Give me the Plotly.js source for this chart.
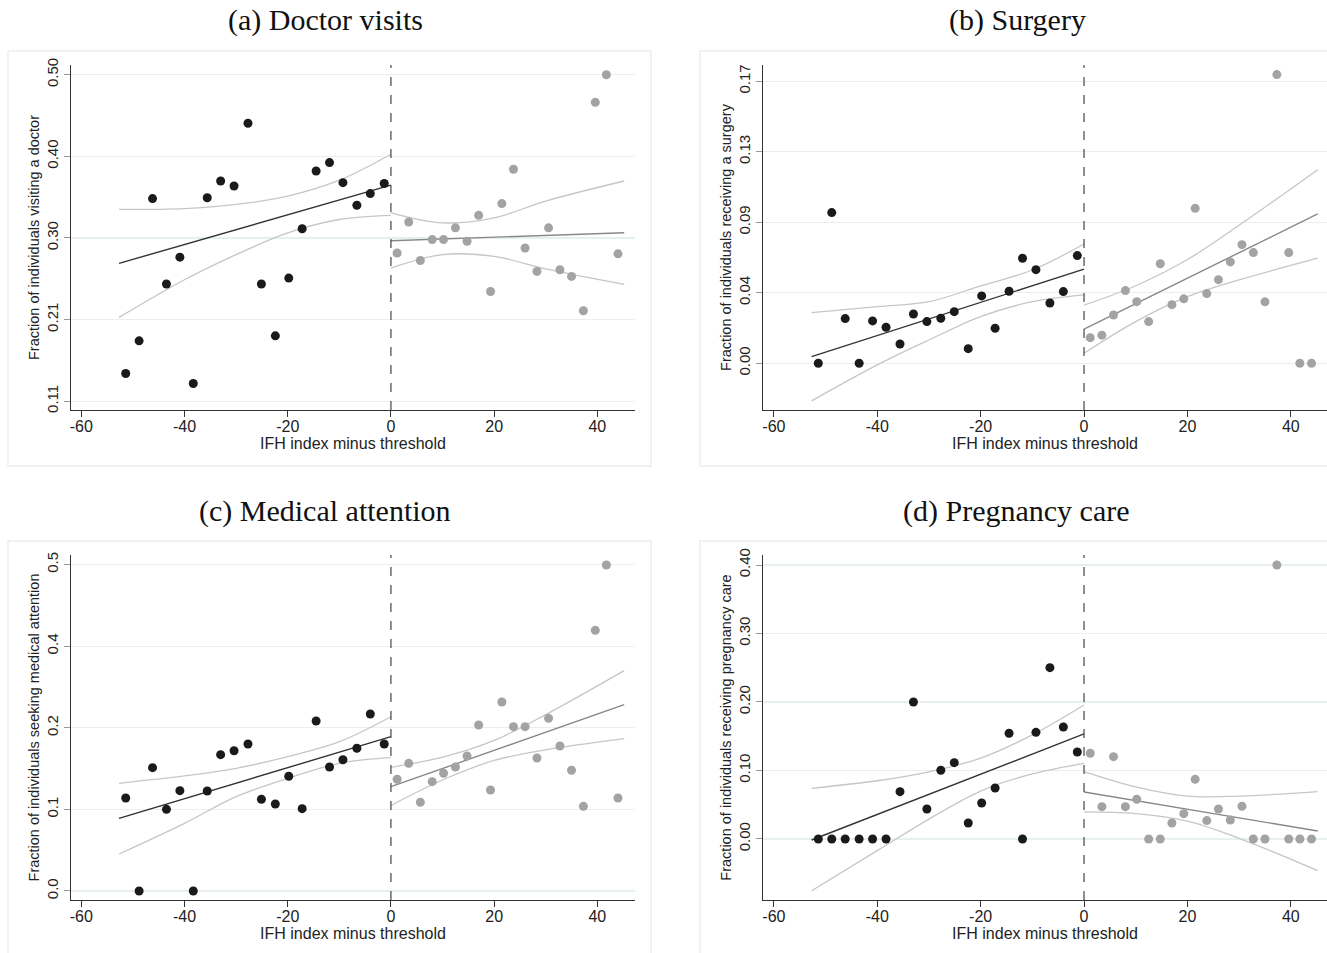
<!DOCTYPE html>
<html>
<head>
<meta charset="utf-8">
<script src="https://cdn.plot.ly/plotly-3.0.1.min.js"></script>
<style>html,body{margin:0;padding:0;background:#fff}#chart{width:1327px;height:953px}</style>
</head>
<body>
<div id="chart"></div>
<script>
// ---------- Data ----------
const binsLeft  = [-51.4,-48.8,-46.2,-43.5,-40.9,-38.3,-35.6,-33.0,-30.4,-27.7,-25.1,-22.4,-19.8,-17.2,-14.5,-11.9,-9.3,-6.6,-4.0,-1.3];
const binsRight = [1.2,3.45,5.7,8.0,10.2,12.5,14.75,17.0,19.3,21.5,23.75,26.0,28.3,30.55,32.75,35.0,37.3,39.6,41.75,44.0];

const doctorLeft  = [0.143,0.182,0.352,0.250,0.282,0.131,0.353,0.373,0.367,0.442,0.250,0.188,0.257,0.316,0.385,0.395,0.371,0.344,0.358,0.370];
const doctorRight = [0.287,0.324,0.278,0.303,0.303,0.317,0.301,0.332,0.241,0.346,0.387,0.293,0.265,0.317,0.267,0.259,0.218,0.467,0.500,0.286];
const surgeryLeft  = [0.000,0.0908,0.0269,0.000,0.0255,0.0217,0.0116,0.0297,0.0251,0.0271,0.0311,0.0088,0.0406,0.0211,0.0434,0.0633,0.0564,0.0363,0.0432,0.0649];
const surgeryRight = [0.0154,0.0169,0.0291,0.0438,0.0371,0.0251,0.0600,0.0353,0.0388,0.0934,0.0420,0.0504,0.0611,0.0715,0.0667,0.0370,0.174,0.0667,0.000,0.000];
const medicalLeft  = [0.1425,0.000,0.1889,0.1251,0.1537,0.000,0.1532,0.2088,0.2149,0.2252,0.1405,0.1333,0.1757,0.1261,0.2604,0.1900,0.2011,0.2186,0.2711,0.2252];
const medicalRight = [0.1711,0.1956,0.1359,0.1675,0.1803,0.1900,0.2068,0.2543,0.1547,0.2895,0.2517,0.2517,0.2037,0.2645,0.2221,0.1849,0.1297,0.3993,0.4994,0.1425];
const pregnancyLeft  = [0,0,0,0,0,0,0.0691,0.2000,0.0438,0.1003,0.1114,0.0234,0.0526,0.0745,0.1543,0,0.1557,0.2501,0.1635,0.1270];
const pregnancyRight = [0.1251,0.0472,0.1202,0.0472,0.0580,0,0,0.0234,0.0370,0.0871,0.0268,0.0438,0.0277,0.0477,0,0,0.400,0,0,0];

// Linear fits (endpoints) and confidence bands (read at sample x positions)
const fitLeftX  = [-52.7, 0];
const fitRightX = [0, 45.2];
const ciLeftX   = [-52.7,-40,-30,-20,-10,0];
const ciRightX  = [0,10,20,30,45.2];

const doctorFitL = [0.2746,0.368],  doctorFitR = [0.3017,0.3112];
const doctorCiLUp = [0.339,0.340,0.345,0.355,0.374,0.405], doctorCiLLo = [0.210,0.255,0.285,0.311,0.327,0.332];
const doctorCiRUp = [0.335,0.323,0.329,0.349,0.373],       doctorCiRLo = [0.269,0.285,0.283,0.268,0.2495];

const surgeryFitL = [0.0040,0.0567], surgeryFitR = [0.0205,0.0900];
const surgeryCiLUp = [0.0305,0.0341,0.0371,0.0466,0.0562,0.0719], surgeryCiLLo = [-0.0227,-0.0010,0.0140,0.0281,0.0371,0.0412];
const surgeryCiRUp = [0.0350,0.0467,0.0625,0.0832,0.1167],       surgeryCiRLo = [0.0060,0.0251,0.0401,0.0502,0.0633];

const medicalFitL = [0.1113,0.2364], medicalFitR = [0.1598,0.2854];
const medicalCiLUp = [0.165,0.1762,0.188,0.2057,0.2287,0.267], medicalCiLLo = [0.0567,0.1037,0.1445,0.1726,0.1956,0.2042];
const medicalCiRUp = [0.1895,0.2050,0.2307,0.2702,0.3375],     medicalCiRLo = [0.1310,0.1700,0.2000,0.2162,0.2333];

const pregnancyFitL = [-0.0015,0.1533], pregnancyFitR = [0.0686,0.0117];
const pregnancyCiLUp = [0.074,0.085,0.098,0.118,0.152,0.1956], pregnancyCiLLo = [-0.0755,-0.017,0.029,0.070,0.095,0.1105];
const pregnancyCiRUp = [0.0983,0.0760,0.0625,0.0625,0.0691],   pregnancyCiRLo = [0.0395,0.0370,0.0260,0.0010,-0.0463];

// Tick labels
const xTicks = [-60,-40,-20,0,20,40];
const doctorTickVals = [0.11,0.2075,0.305,0.4025,0.50],  doctorTickText = ['0.11','0.21','0.30','0.40','0.50'];
const surgeryTickVals = [0,0.0425,0.085,0.1275,0.17],    surgeryTickText = ['0.00','0.04','0.09','0.13','0.17'];
const medicalTickVals = [0,0.125,0.25,0.375,0.5],        medicalTickText = ['0.0','0.1','0.2','0.4','0.5'];
const pregnancyTickVals = [0,0.1,0.2,0.3,0.4],           pregnancyTickText = ['0.00','0.10','0.20','0.30','0.40'];

const panelTitles = ['(a) Doctor visits','(b) Surgery','(c) Medical attention','(d) Pregnancy care'];
const yTitles = ['Fraction of individuals visiting a doctor','Fraction of individuals receiving a surgery',
                 'Fraction of individuals seeking medical attention','Fraction of individuals receiving pregnancy care'];
const xTitle = 'IFH index minus threshold';

// ---------- Build ----------
const W = 1327, H = 953;
const panels = [
  {left:doctorLeft,right:doctorRight,fitL:doctorFitL,fitR:doctorFitR,ciLU:doctorCiLUp,ciLL:doctorCiLLo,ciRU:doctorCiRUp,ciRL:doctorCiRLo,
   tv:doctorTickVals,tt:doctorTickText,yr:[0.0994,0.5116],xr:[-62.0,47.3],px:[71,635],py:[65,410],box:[8,51,651,466],tpos:[325,20]},
  {left:surgeryLeft,right:surgeryRight,fitL:surgeryFitL,fitR:surgeryFitR,ciLU:surgeryCiLUp,ciLL:surgeryCiLLo,ciRU:surgeryCiRUp,ciRL:surgeryCiRLo,
   tv:surgeryTickVals,tt:surgeryTickText,yr:[-0.0282,0.1798],xr:[-62.1,47.0],px:[763,1327],py:[65,410],box:[700,51,1340,466],tpos:[1017,20]},
  {left:medicalLeft,right:medicalRight,fitL:medicalFitL,fitR:medicalFitR,ciLU:medicalCiLUp,ciLL:medicalCiLLo,ciRU:medicalCiRUp,ciRL:medicalCiRLo,
   tv:medicalTickVals,tt:medicalTickText,yr:[-0.0138,0.5147],xr:[-62.0,47.3],px:[71,635],py:[555,900],box:[8,541,651,960],tpos:[325,511]},
  {left:pregnancyLeft,right:pregnancyRight,fitL:pregnancyFitL,fitR:pregnancyFitR,ciLU:pregnancyCiLUp,ciLL:pregnancyCiLLo,ciRU:pregnancyCiRUp,ciRL:pregnancyCiRLo,
   tv:pregnancyTickVals,tt:pregnancyTickText,yr:[-0.0891,0.4146],xr:[-62.1,47.0],px:[763,1327],py:[555,900],box:[700,541,1340,960],tpos:[1016,511]}
];

const traces = [];
const layout = {
  width: W, height: H, margin: {l:0,r:0,t:0,b:0},
  paper_bgcolor: '#fff', plot_bgcolor: '#fff', showlegend: false,
  font: {family: 'Liberation Sans, Arial, sans-serif', color: '#222', size: 15},
  shapes: [], annotations: []
};

const ciStyle = {color:'#c6c6c6', width:1.3, shape:'spline'};

panels.forEach((p, i) => {
  const n = i === 0 ? '' : String(i + 1);
  const xa = 'x' + n, ya = 'y' + n;
  const add = (t) => traces.push(Object.assign({xaxis: xa, yaxis: ya, hoverinfo: 'skip'}, t));
  add({x: ciLeftX, y: p.ciLU, mode: 'lines', line: ciStyle});
  add({x: ciLeftX, y: p.ciLL, mode: 'lines', line: ciStyle});
  add({x: ciRightX, y: p.ciRU, mode: 'lines', line: ciStyle});
  add({x: ciRightX, y: p.ciRL, mode: 'lines', line: ciStyle});
  add({x: fitLeftX, y: p.fitL, mode: 'lines', line: {color:'#333', width:1.4}});
  add({x: fitRightX, y: p.fitR, mode: 'lines', line: {color:'#888', width:1.4}});
  add({x: binsLeft, y: p.left, mode: 'markers', marker: {color:'#1a1a1a', size:9}});
  add({x: binsRight, y: p.right, mode: 'markers', marker: {color:'#a3a3a3', size:9}});

  layout['xaxis' + n] = {
    domain: [p.px[0] / W, p.px[1] / W], anchor: ya, range: p.xr,
    tickvals: xTicks, ticktext: xTicks.map(String), ticks: 'outside', ticklen: 6, tickcolor: '#333', tickwidth: 1,
    ticklabelstandoff: -4,
    showline: true, linecolor: '#333', linewidth: 1.2, showgrid: false, zeroline: false,
    tickfont: {size: 16, color: '#222'},
    title: {text: xTitle, font: {size: 16, color: '#222'}, standoff: 0}
  };
  layout['yaxis' + n] = {
    domain: [1 - p.py[1] / H, 1 - p.py[0] / H], anchor: xa, range: p.yr,
    tickvals: p.tv, ticktext: p.tt, tickangle: -90, ticks: 'outside', ticklen: 6, tickcolor: '#999', tickwidth: 1,
    showline: true, linecolor: '#333', linewidth: 1.2, showgrid: true, gridcolor: '#e7f0f1', gridwidth: 1.2, zeroline: false,
    tickfont: {size: 15, color: '#222'},
    title: {text: yTitles[i], font: {size: 14.5, color: '#222'}, standoff: 0}
  };
  layout.shapes.push({type:'line', xref: xa, yref: ya + ' domain', x0: 0, x1: 0, y0: 0, y1: 1,
    line: {color:'#444', width:1.2, dash:'dash'}});
  layout.shapes.push({type:'rect', xref:'paper', yref:'paper', layer:'below',
    x0: p.box[0] / W, x1: p.box[2] / W, y0: 1 - p.box[3] / H, y1: 1 - p.box[1] / H,
    line: {color:'#e9f0f1', width:1.5}, fillcolor:'rgba(0,0,0,0)'});
  layout.annotations.push({text: panelTitles[i], xref:'paper', yref:'paper', x: p.tpos[0] / W, y: 1 - p.tpos[1] / H,
    xanchor:'center', yanchor:'middle', showarrow:false,
    font: {family:'Liberation Serif, Times New Roman, serif', size: 30, color:'#111'}});
});

Plotly.newPlot('chart', traces, layout, {staticPlot: true});
</script>
</body>
</html>
